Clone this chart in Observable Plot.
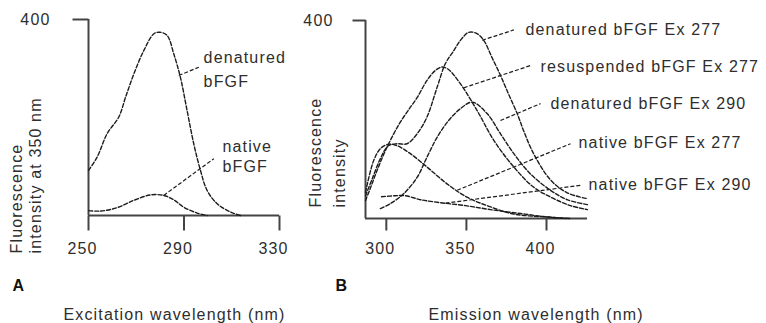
<!DOCTYPE html>
<html><head><meta charset="utf-8">
<script src="https://cdn.jsdelivr.net/npm/d3@7"></script>
<script src="https://cdn.jsdelivr.net/npm/@observablehq/plot@0.6"></script>
<style>
body{margin:0;background:#fff;}
#wrap{position:relative;width:766px;height:323px;overflow:hidden;background:#fff;}
#wrap svg{position:absolute;top:0;overflow:visible;}
#wrap svg text{letter-spacing:1.15px;}
#wrap svg [aria-label="tick-labels"] text{letter-spacing:0;}
</style></head><body><div id="wrap"></div>
<script>
// ---------- Panel A: excitation spectra (emission read at 350 nm) ----------
const excDomain = [250, 330];
const excTicks = [250, 290, 330];
const intDomain = [0, 400];
const intTicks = [400];

const excDenaturedWl  = [250, 253.6, 257.8, 262.7, 265.5, 269.0, 273.2, 277.4, 279.9, 283.0, 285.7, 288.5, 291.3, 294.1, 296.9, 299.7, 303.9, 309.5, 313.7];
const excDenaturedInt = [92, 119, 167, 201, 241, 289, 337, 371, 374, 367, 330, 282, 214, 146, 92, 51, 24, 7, 0];
const excNativeWl  = [250.1, 255, 262, 269, 276, 281.5, 285.7, 289.9, 295.5, 299.7];
const excNativeInt = [10, 9, 16, 31, 42, 41, 32, 17, 5, 0];

const excLabelText = ["denatured", "bFGF", "native", "bFGF"];
const excLabelWl   = [298.2, 298.2, 306.1, 306.1];
const excLabelInt  = [311, 262, 130, 89];
const excLeaderWl1  = [287.8, 281.5];
const excLeaderInt1 = [285.7, 41];
const excLeaderWl2  = [296.2, 302.5];
const excLeaderInt2 = [302.6, 116];

// ---------- Panel B: emission spectra ----------
const emDomain = [287, 425.6];
const emTicks = [300, 350, 400];

const emSeriesNames = ["denatured bFGF Ex 277", "resuspended bFGF Ex 277", "denatured bFGF Ex 290", "native bFGF Ex 277", "native bFGF Ex 290"];
const emDen277Wl  = [287, 291.3, 296.3, 301.3, 306.9, 312.9, 319.2, 325.4, 331.7, 336.9, 342.1, 346.3, 351.4, 356.3, 360.8, 366, 371.3, 376.5, 381.7, 386, 392.1, 402.5, 412.9, 425.6];
const emDen277Int = [46, 81, 121, 147, 151, 151, 171, 205, 265, 313, 339, 360, 376, 374, 360, 325, 289, 250, 212, 175, 130, 78, 52, 40];
const emRes277Wl  = [287, 290, 294.2, 299.4, 304.6, 308.8, 314, 319.2, 325.4, 330.6, 334.8, 338.8, 346.3, 356.7, 367.1, 379.6, 392.1, 404.6, 415, 425.6];
const emRes277Int = [36, 61, 97, 137, 171, 195, 220, 244, 279, 299, 306, 301, 272, 218, 158, 104, 63, 40, 26, 18];
const emDen290Wl  = [296.3, 302.5, 310.8, 319.2, 325.4, 331.7, 338.9, 346.3, 353.6, 362.9, 371.3, 379.6, 390, 402.5, 412.9, 425.6];
const emDen290Int = [20, 30, 50, 83, 124, 164, 198, 222, 235, 212, 171, 131, 90, 57, 38, 28];
const emNat277Wl  = [287, 292.1, 296.3, 301.4, 306.7, 315, 325.4, 337.9, 350.4, 362.9, 379.6, 400.4, 411.9];
const emNat277Int = [53, 117, 141, 150, 147, 131, 104, 70, 43, 26, 9, 3, 0];
const emNat290Wl  = [297, 305.6, 311.9, 321.3, 333.75, 349.4, 365, 383.75, 401, 414.6];
const emNat290Int = [44, 46, 46, 38, 32, 26, 18, 10, 3, 0];

const emLabelWl  = [386.9, 396.25, 402.5, 420, 426.25];
const emLabelInt = [370, 295, 222, 143, 57];
const emLeaderWl1  = [359.8, 348.3, 371.25, 344.2, 336.9];
const emLeaderInt1 = [360, 264, 198, 57, 31];
const emLeaderWl2  = [379.6, 390, 396.25, 415, 421.25];
const emLeaderInt2 = [381, 309, 232, 151, 67];

// ---------- helpers ----------
const FONT = "'Liberation Sans', Arial, Helvetica, sans-serif";
const INK = "#2e2e2e";
const pts = (xs, ys, name) => xs.map((x, i) => ({x, y: ys[i], name}));
const curveStyle = {x: "x", y: "y", z: "name", stroke: "#1c1c1c", strokeWidth: 1.4, strokeDasharray: "4,2", curve: "catmull-rom"};
const leaderStyle = {stroke: "#1c1c1c", strokeWidth: 1.2, strokeDasharray: "4,2"};
const axisRule = {stroke: "#444", strokeWidth: 2};

// tick marks drawn as links in data space; pixel length converted into data units
function tickMarks(dim, xDomain, yDomain, xTicks, yTicks, xLen, yLen) {
  const pxPerY = (dim.h - dim.mt - dim.mb) / (yDomain[1] - yDomain[0]);
  const pxPerX = (dim.w - dim.ml - dim.mr) / (xDomain[1] - xDomain[0]);
  const xt = xTicks.map(v => ({x1: v, x2: v, y1: yDomain[0], y2: yDomain[0] - xLen / pxPerY}));
  const yt = yTicks.map(v => ({x1: xDomain[0], x2: xDomain[0] - yLen / pxPerX, y1: v, y2: v}));
  return [
    Plot.link([...xt, ...yt], {x1: "x1", x2: "x2", y1: "y1", y2: "y2", ...axisRule})
  ];
}

// ---------- Panel A plot ----------
const A = {w: 300, h: 323, ml: 88, mr: 21, mt: 19, mb: 108};
const excCurves = [
  ...pts(excDenaturedWl, excDenaturedInt, "denatured"),
  ...pts(excNativeWl, excNativeInt, "native")
];
const excLabels = excLabelText.map((t, i) => ({t, x: excLabelWl[i], y: excLabelInt[i]}));
const excLeaders = excLeaderWl1.map((x1, i) => ({x1, y1: excLeaderInt1[i], x2: excLeaderWl2[i], y2: excLeaderInt2[i]}));

const plotA = Plot.plot({
  width: A.w, height: A.h,
  marginLeft: A.ml, marginRight: A.mr, marginTop: A.mt, marginBottom: A.mb,
  style: {fontFamily: FONT, fontSize: "16px", color: INK, background: "transparent"},
  x: {domain: excDomain, axis: null},
  y: {domain: intDomain, axis: null},
  marks: [
    Plot.ruleY([0], axisRule),
    Plot.ruleX([excDomain[0]], axisRule),
    ...tickMarks(A, excDomain, intDomain, excTicks, intTicks, 15, 16),
    Plot.line(excCurves, curveStyle),
    Plot.link(excLeaders, {x1: "x1", y1: "y1", x2: "x2", y2: "y2", ...leaderStyle}),
    Plot.text(excLabels, {x: "x", y: "y", text: "t", textAnchor: "start", lineAnchor: "bottom", fill: INK, fontSize: 16}),
    Plot.text(excTicks, {x: d => d, frameAnchor: "bottom", lineAnchor: "top", dy: 27, dx: -6, fill: INK, fontSize: 16, ariaLabel: "tick-labels"}),
    Plot.text(intTicks, {y: d => d, frameAnchor: "left", textAnchor: "end", dx: -38, fill: INK, fontSize: 16, ariaLabel: "tick-labels"}),
    Plot.text(["Fluorescence"], {frameAnchor: "bottom-left", rotate: -90, textAnchor: "start", dx: -67, dy: 38, fill: INK, fontSize: 16}),
    Plot.text(["intensity at 350 nm"], {frameAnchor: "bottom-left", rotate: -90, textAnchor: "start", dx: -48, dy: 38, fill: INK, fontSize: 16}),
    Plot.text(["A"], {frameAnchor: "bottom-left", textAnchor: "start", lineAnchor: "bottom", dx: -76, dy: 75, fill: "#111", fontSize: 16, fontWeight: "bold"}),
    Plot.text(["Excitation wavelength (nm)"], {frameAnchor: "bottom-left", textAnchor: "start", lineAnchor: "bottom", dx: -25, dy: 104.5, fill: INK, fontSize: 16})
  ]
});
plotA.style.left = "0px";

// ---------- Panel B plot ----------
const B = {w: 466, h: 323, ml: 65, mr: 179, mt: 20, mb: 105};
const emCurves = [
  ...pts(emDen277Wl, emDen277Int, emSeriesNames[0]),
  ...pts(emRes277Wl, emRes277Int, emSeriesNames[1]),
  ...pts(emDen290Wl, emDen290Int, emSeriesNames[2]),
  ...pts(emNat277Wl, emNat277Int, emSeriesNames[3]),
  ...pts(emNat290Wl, emNat290Int, emSeriesNames[4])
];
const emLabels = emSeriesNames.map((t, i) => ({t, x: emLabelWl[i], y: emLabelInt[i]}));
const emLeaders = emLeaderWl1.map((x1, i) => ({x1, y1: emLeaderInt1[i], x2: emLeaderWl2[i], y2: emLeaderInt2[i]}));

const plotB = Plot.plot({
  width: B.w, height: B.h,
  marginLeft: B.ml, marginRight: B.mr, marginTop: B.mt, marginBottom: B.mb,
  style: {fontFamily: FONT, fontSize: "16px", color: INK, background: "transparent"},
  x: {domain: emDomain, axis: null},
  y: {domain: intDomain, axis: null},
  marks: [
    Plot.ruleY([0], axisRule),
    Plot.ruleX([emDomain[0]], axisRule),
    ...tickMarks(B, emDomain, intDomain, emTicks, intTicks, 12, 13),
    Plot.line(emCurves, curveStyle),
    Plot.link(emLeaders, {x1: "x1", y1: "y1", x2: "x2", y2: "y2", ...leaderStyle}),
    Plot.text(emLabels, {x: "x", y: "y", text: "t", textAnchor: "start", lineAnchor: "bottom", fill: INK, fontSize: 16}),
    Plot.text(emTicks, {x: d => d, frameAnchor: "bottom", lineAnchor: "top", dy: 24, dx: -6, fill: INK, fontSize: 16, ariaLabel: "tick-labels"}),
    Plot.text(intTicks, {y: d => d, frameAnchor: "left", textAnchor: "end", dx: -32, fill: INK, fontSize: 16, ariaLabel: "tick-labels"}),
    Plot.text(["Fluorescence"], {frameAnchor: "bottom-left", rotate: -90, textAnchor: "start", dx: -45, dy: -11, fill: INK, fontSize: 16}),
    Plot.text(["intensity"], {frameAnchor: "bottom-left", rotate: -90, textAnchor: "start", dx: -21, dy: -11, fill: INK, fontSize: 16}),
    Plot.text(["B"], {frameAnchor: "bottom-left", textAnchor: "start", lineAnchor: "bottom", dx: -30, dy: 72, fill: "#111", fontSize: 16, fontWeight: "bold"}),
    Plot.text(["Emission wavelength (nm)"], {frameAnchor: "bottom-left", textAnchor: "start", lineAnchor: "bottom", dx: 63, dy: 101.5, fill: INK, fontSize: 16})
  ]
});
plotB.style.left = "300px";

const wrap = document.getElementById("wrap");
wrap.appendChild(plotA);
wrap.appendChild(plotB);
</script></body></html>
